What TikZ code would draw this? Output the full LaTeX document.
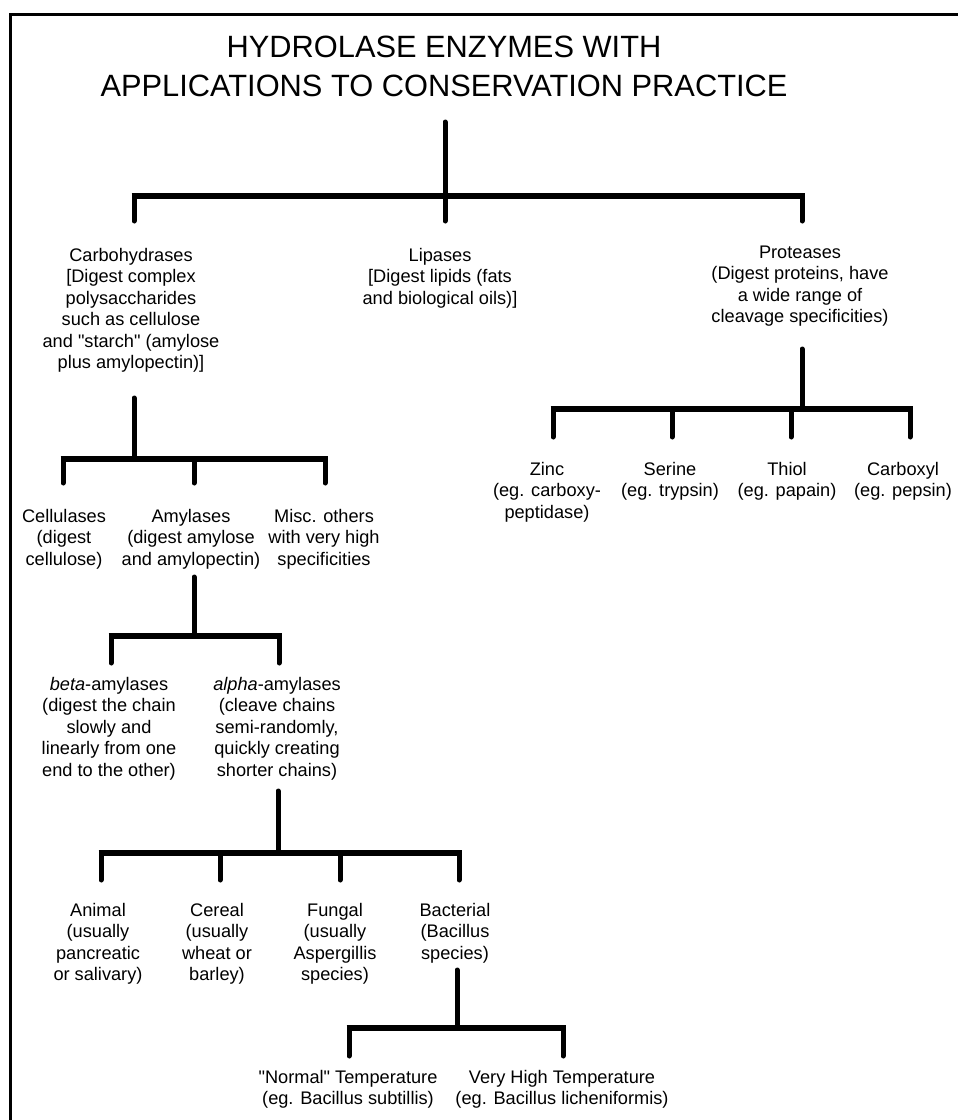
\documentclass[tikz,border=0pt]{standalone}
\usepackage{fontspec}
\setmainfont{Liberation Sans}
\newfontfamily\lsans{Liberation Sans}
\begin{document}
\begin{tikzpicture}[x=1pt,y=-1pt,
  lbl/.style={align=center, inner sep=0pt, anchor=base, font=\lsans\fontsize{18.2}{21.5}\selectfont},
  ttl/.style={align=center, inner sep=0pt, anchor=base, font=\lsans\fontsize{30.8}{39.5}\selectfont},
  hbar/.style={line width=6pt, line cap=butt},
  vstem/.style={line width=5pt, line cap=round},
  frame/.style={line width=3pt, line join=miter}]
\useasboundingbox (0,0) rectangle (958,1120);
% frame (continues past the right and bottom edges)
\coordinate (fbl) at (10.5,1130);
\coordinate (ftl) at (10.5,14.7);
\coordinate (ftr) at (970,14.7);
\draw[frame] (fbl) -- (ftl) -- (ftr);

% title (node placed at the baseline of its last line)
\node[ttl] (title) at (444,96.5) {HYDROLASE ENZYMES WITH\\APPLICATIONS TO CONSERVATION PRACTICE};

% level 1
\node[lbl] (carb) at (131,368.5) {Carbohydrases\\{}[Digest complex\\polysaccharides\\such as cellulose\\and "starch" (amylose\\plus amylopectin)]};
\node[lbl] (lip) at (440,304) {Lipases\\{}[Digest lipids (fats\\and biological oils)]};
\node[lbl] (prot) at (800,322.5) {Proteases\\(Digest proteins, have\\a wide range of\\cleavage specificities)};

% proteases children
\node[lbl] (zinc) at (547,518) {Zinc\\(eg. carboxy-\\peptidase)};
\node[lbl] (serine) at (670,496.5) {Serine\\(eg. trypsin)};
\node[lbl] (thiol) at (787,496.5) {Thiol\\(eg. papain)};
\node[lbl] (carbx) at (903,496.5) {Carboxyl\\(eg. pepsin)};

% carbohydrases children
\node[lbl] (cell) at (64,565) {Cellulases\\(digest\\cellulose)};
\node[lbl] (amyl) at (191,565) {Amylases\\(digest amylose\\and amylopectin)};
\node[lbl] (misc) at (324,565) {Misc. others\\with very high\\specificities};

% amylases children
\node[lbl] (beta) at (109,776) {\textit{beta}-amylases\\(digest the chain\\slowly and\\linearly from one\\end to the other)};
\node[lbl] (alpha) at (277,776) {\textit{alpha}-amylases\\(cleave chains\\semi-randomly,\\quickly creating\\shorter chains)};

% alpha children
\node[lbl] (animal) at (98,980.5) {Animal\\(usually\\pancreatic\\or salivary)};
\node[lbl] (cereal) at (217,980.5) {Cereal\\(usually\\wheat or\\barley)};
\node[lbl] (fungal) at (335,980.5) {Fungal\\(usually\\Aspergillis\\species)};
\node[lbl] (bact) at (455,959) {Bacterial\\(Bacillus\\species)};

% bacterial children
\node[lbl] (normal) at (348,1104.5) {"Normal" Temperature\\(eg. Bacillus subtillis)};
\node[lbl] (vhigh) at (562,1104.5) {Very High Temperature\\(eg. Bacillus licheniformis)};

% ---- connectors ----
% title -> level 1
\coordinate (t-s) at (445,122); \coordinate (t-j) at (445,196);
\coordinate (t-l) at (134,196); \coordinate (t-r) at (802,196);
\coordinate (carb-t) at (134,221); \coordinate (lip-t) at (445,221); \coordinate (prot-t) at (802,221);
\draw[vstem] (t-s) -- (t-j);
\draw[hbar] ([xshift=-2.5pt]t-l) -- ([xshift=2.5pt]t-r);
\draw[vstem] (t-l) -- (carb-t);
\draw[vstem] (t-j) -- (lip-t);
\draw[vstem] (t-r) -- (prot-t);

% proteases -> children
\coordinate (p-s) at (802,349); \coordinate (p-j) at (802,409);
\coordinate (p-1) at (553,409); \coordinate (p-2) at (672,409); \coordinate (p-3) at (791,409); \coordinate (p-4) at (910,409);
\coordinate (zinc-t) at (553,437); \coordinate (serine-t) at (672,437); \coordinate (thiol-t) at (791,437); \coordinate (carbx-t) at (910,437);
\draw[vstem] (p-s) -- (p-j);
\draw[hbar] ([xshift=-2.5pt]p-1) -- ([xshift=2.5pt]p-4);
\draw[vstem] (p-1) -- (zinc-t);
\draw[vstem] (p-2) -- (serine-t);
\draw[vstem] (p-3) -- (thiol-t);
\draw[vstem] (p-4) -- (carbx-t);

% carbohydrases -> children
\coordinate (c-s) at (134,398); \coordinate (c-j) at (134,459);
\coordinate (c-1) at (63,459); \coordinate (c-2) at (194,459); \coordinate (c-3) at (325,459);
\coordinate (cell-t) at (63,483); \coordinate (amyl-t) at (194,483); \coordinate (misc-t) at (325,483);
\draw[vstem] (c-s) -- (c-j);
\draw[hbar] ([xshift=-2.5pt]c-1) -- ([xshift=2.5pt]c-3);
\draw[vstem] (c-1) -- (cell-t);
\draw[vstem] (c-2) -- (amyl-t);
\draw[vstem] (c-3) -- (misc-t);

% amylases -> children
\coordinate (a-s) at (194,577); \coordinate (a-j) at (194,636);
\coordinate (a-1) at (111,636); \coordinate (a-2) at (279,636);
\coordinate (beta-t) at (111,663); \coordinate (alpha-t) at (279,663);
\draw[vstem] (a-s) -- (a-j);
\draw[hbar] ([xshift=-2.5pt]a-1) -- ([xshift=2.5pt]a-2);
\draw[vstem] (a-1) -- (beta-t);
\draw[vstem] (a-2) -- (alpha-t);

% alpha -> children
\coordinate (al-s) at (278,791); \coordinate (al-j) at (278,853);
\coordinate (al-1) at (101,853); \coordinate (al-2) at (220,853); \coordinate (al-3) at (340,853); \coordinate (al-4) at (459,853);
\coordinate (animal-t) at (101,880); \coordinate (cereal-t) at (220,880); \coordinate (fungal-t) at (340,880); \coordinate (bact-t) at (459,880);
\draw[vstem] (al-s) -- (al-j);
\draw[hbar] ([xshift=-2.5pt]al-1) -- ([xshift=2.5pt]al-4);
\draw[vstem] (al-1) -- (animal-t);
\draw[vstem] (al-2) -- (cereal-t);
\draw[vstem] (al-3) -- (fungal-t);
\draw[vstem] (al-4) -- (bact-t);

% bacterial -> children
\coordinate (b-s) at (457,970); \coordinate (b-j) at (457,1028);
\coordinate (b-1) at (349,1028); \coordinate (b-2) at (563,1028);
\coordinate (normal-t) at (349,1056); \coordinate (vhigh-t) at (563,1056);
\draw[vstem] (b-s) -- (b-j);
\draw[hbar] ([xshift=-2.5pt]b-1) -- ([xshift=2.5pt]b-2);
\draw[vstem] (b-1) -- (normal-t);
\draw[vstem] (b-2) -- (vhigh-t);
\end{tikzpicture}
\end{document}
